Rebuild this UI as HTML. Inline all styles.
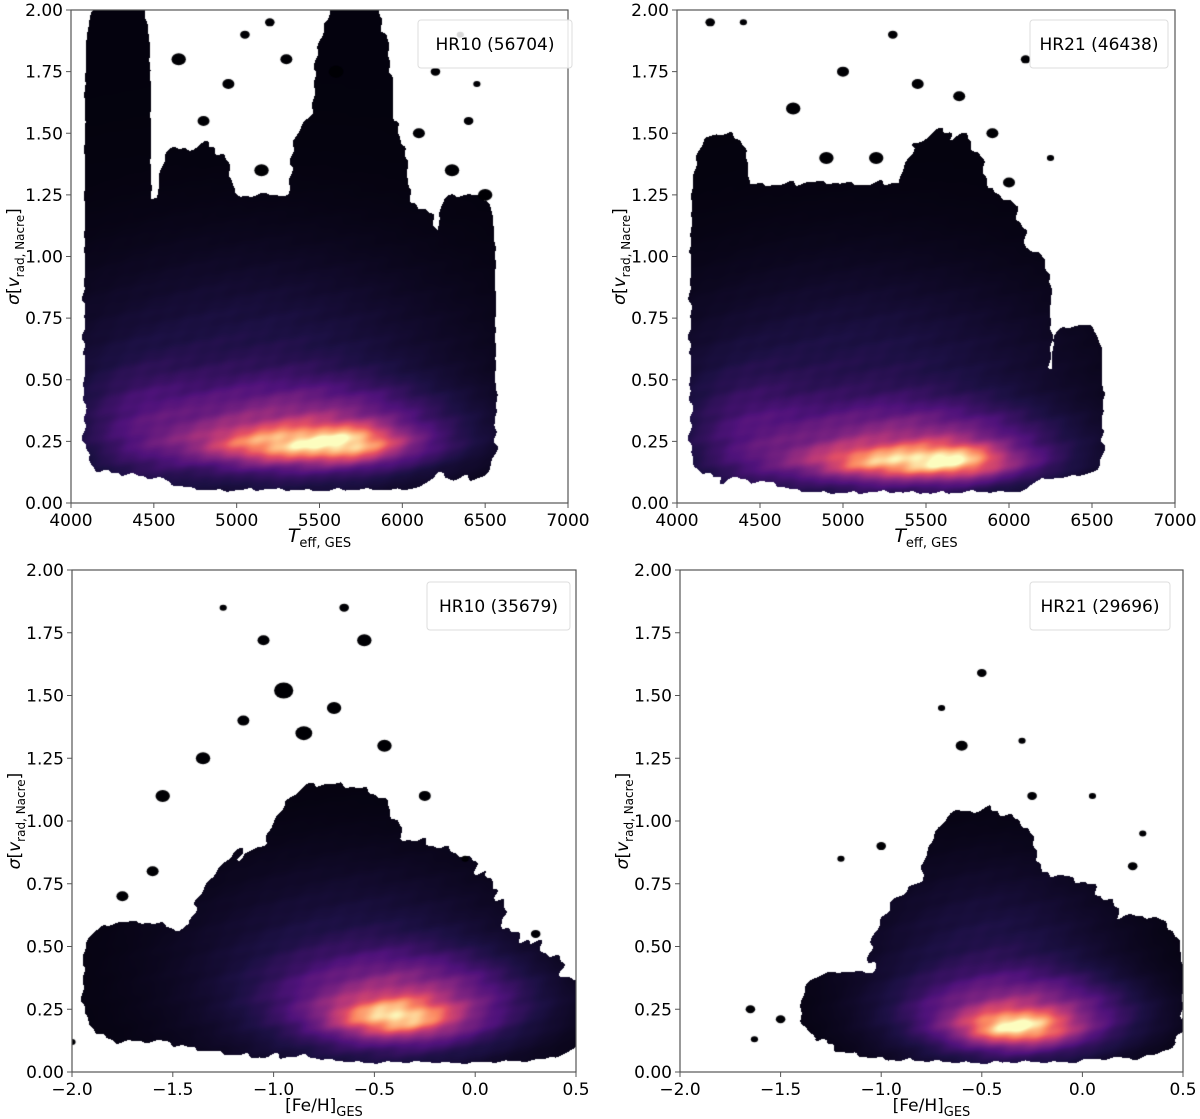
<!DOCTYPE html>
<html><head><meta charset="utf-8">
<style>
body{margin:0;background:#fff;width:1200px;height:1119px;position:relative;overflow:hidden;font-family:"DejaVu Sans","Liberation Sans",sans-serif;}
canvas{position:absolute;}
svg{position:absolute;left:0;top:0;}
</style></head>
<body>
<canvas id="c0"></canvas>
<canvas id="c1"></canvas>
<canvas id="c2"></canvas>
<canvas id="c3"></canvas>
<svg id="ov" width="1200" height="1119"></svg>
<script>
// ---- data ----
const yTicks = [0,0.25,0.5,0.75,1.0,1.25,1.5,1.75,2.0];
const yTickLabels = ["0.00","0.25","0.50","0.75","1.00","1.25","1.50","1.75","2.00"];
const teffTicks = [4000,4500,5000,5500,6000,6500,7000];
const fehTicks = [-2.0,-1.5,-1.0,-0.5,0.0,0.5];
const fehTickLabels = ["\u22122.0","\u22121.5","\u22121.0","\u22120.5","0.0","0.5"];
const legendLabels = ["HR10 (56704)","HR21 (46438)","HR10 (35679)","HR21 (29696)"];
// support regions [x0,x1,y0,y1,exponent]
const regionsHR10T = [[4080,6560,0.12,0.7,8],[4500,6250,0.055,1.0,8],[4080,6250,0.1,1.25,6],[4080,4480,0.12,2.05,6],[4500,5000,0.1,1.45,4],[5300,6050,0.1,1.6,4],[5450,5950,0.5,2.05,3],[6200,6560,0.1,1.25,5],[4150,4350,1.0,2.05,4]];
const regionsHR21T = [[4080,6560,0.1,0.55,8],[4500,6250,0.045,1.05,8],[4080,6100,0.08,1.3,6],[4080,4450,0.1,1.5,4],[5300,5900,0.3,1.5,3],[6250,6560,0.15,0.72,4]];
const regionsHR10F = [[-1.85,0.45,0.06,0.62,2.5],[-1.4,0.15,0.12,0.95,2.5],[-1.0,0.55,0.04,0.42,4],[-1.05,-0.35,0.4,1.15,2.5],[-1.95,-1.4,0.12,0.6,3]];
const regionsHR21F = [[-1.35,0.5,0.04,0.42,3],[-1.05,0.25,0.08,0.8,2.5],[-0.8,-0.2,0.3,1.05,2.5],[-1.4,-0.9,0.12,0.4,3],[0.0,0.5,0.06,0.62,3]];
// bright kernels [x,y,sx,sy,weight]
const kernHR10T = [[5400,0.24,400,0.05,0.55],[5700,0.25,160,0.05,0.22],[5400,0.3,560,0.12,0.33],[4400,0.3,250,0.18,0.1],[5100,0.5,900,0.35,0.13]];
const kernHR21T = [[5400,0.17,400,0.045,0.55],[5700,0.18,160,0.05,0.22],[5400,0.23,560,0.11,0.33],[4400,0.28,250,0.18,0.1],[5100,0.45,900,0.35,0.13]];
const kernHR10F = [[-0.4,0.22,0.2,0.05,0.55],[-0.35,0.28,0.38,0.12,0.35],[-0.6,0.4,0.6,0.3,0.13]];
const kernHR21F = [[-0.33,0.18,0.18,0.045,0.6],[-0.3,0.23,0.35,0.1,0.35],[-0.45,0.4,0.45,0.3,0.13]];
// isolated islands [x,y,radius px]
const islHR10T = [[4650,1.8,6],[4800,1.55,5],[4950,1.7,5],[5050,1.9,4],[5150,1.35,6],[5300,1.8,5],[5200,1.95,4],[5600,1.75,6],[6100,1.5,5],[6200,1.75,4],[6300,1.35,6],[6400,1.55,4],[6500,1.25,6],[6450,1.7,3],[6350,1.9,3]];
const islHR21T = [[4200,1.95,4],[4400,1.95,3],[4700,1.6,6],[4900,1.4,6],[5000,1.75,5],[5200,1.4,6],[5300,1.9,4],[5450,1.7,5],[5700,1.65,5],[5900,1.5,5],[6000,1.3,5],[6100,1.8,4],[6250,1.4,3]];
const islHR10F = [[-1.25,1.85,3],[-1.05,1.72,5],[-0.65,1.85,4],[-0.55,1.72,6],[-0.95,1.52,8],[-0.7,1.45,6],[-1.15,1.4,5],[-1.35,1.25,6],[-0.85,1.35,7],[-0.45,1.3,6],[-0.25,1.1,5],[-1.6,0.8,5],[-1.75,0.7,5],[0.3,0.55,4],[-0.05,0.85,3],[-2.0,0.12,3],[-1.55,1.1,6]];
const islHR21F = [[-1.65,0.25,4],[-1.5,0.21,4],[-1.63,0.13,3],[-1.2,0.85,3],[-0.5,1.59,4],[-0.6,1.3,5],[-0.3,1.32,3],[-0.7,1.45,3],[-0.25,1.1,4],[0.05,1.1,3],[0.25,0.82,4],[0.3,0.95,3],[-1.0,0.9,4]];
// ---- layout ----
const panels = [
 {L:71,R:568,T:10,B:503,xmin:4000,xmax:7000,reg:regionsHR10T,kern:kernHR10T,isl:islHR10T,xt:teffTicks,xl:teffTicks.map(String),teff:true,leg:[418,20,154,48]},
 {L:677,R:1175,T:10,B:503,xmin:4000,xmax:7000,reg:regionsHR21T,kern:kernHR21T,isl:islHR21T,xt:teffTicks,xl:teffTicks.map(String),teff:true,leg:[1030,20,138,48]},
 {L:72,R:576,T:570,B:1072,xmin:-2,xmax:0.5,reg:regionsHR10F,kern:kernHR10F,isl:islHR10F,xt:fehTicks,xl:fehTickLabels,teff:false,leg:[427,582,143,48]},
 {L:680,R:1183,T:570,B:1072,xmin:-2,xmax:0.5,reg:regionsHR21F,kern:kernHR21F,isl:islHR21F,xt:fehTicks,xl:fehTickLabels,teff:false,leg:[1030,582,140,48]}
];
const stops=[[0,[0,0,4]],[0.13,[28,16,68]],[0.25,[79,18,123]],[0.38,[129,37,129]],[0.5,[181,54,122]],[0.63,[229,80,100]],[0.75,[251,135,97]],[0.88,[254,194,135]],[1,[252,253,191]]];
function magma(t){t=Math.max(0,Math.min(1,t));for(let i=1;i<stops.length;i++){if(t<=stops[i][0]){const a=stops[i-1],b=stops[i];const u=(t-a[0])/(b[0]-a[0]);return [0,1,2].map(k=>a[1][k]+(b[1][k]-a[1][k])*u);}}return stops[stops.length-1][1];}
function wob(i,j){return 0.5*Math.sin(i*0.21+j*0.13)+0.35*Math.sin(i*0.07-j*0.31+1.3)+0.3*Math.sin(i*0.43+j*0.37+2.1);}
function tex(i,j){return 0.5*Math.sin(i*0.19+j*0.31)*Math.sin(i*0.11-j*0.17+0.7)+0.5*Math.sin(i*0.08+j*0.23+1.9);}
const NS="http://www.w3.org/2000/svg";
const ov=document.getElementById('ov');
function mk(tag,attrs,parent){const e=document.createElementNS(NS,tag);for(const k in attrs)e.setAttribute(k,attrs[k]);(parent||ov).appendChild(e);return e;}
panels.forEach((p,pi)=>{
 const W=p.R-p.L,H=p.B-p.T;
 const sx=v=>p.L+(v-p.xmin)/(p.xmax-p.xmin)*W;
 const sy=v=>p.B-v/2*H;
 const cv=document.getElementById('c'+pi);cv.width=W;cv.height=H;cv.style.left=p.L+'px';cv.style.top=p.T+'px';
 const ctx=cv.getContext('2d');const img=ctx.createImageData(W,H);
 for(let j=0;j<H;j++){const y=(H-j)/H*2;for(let i=0;i<W;i++){const x=p.xmin+i/W*(p.xmax-p.xmin);
  const thr=1+0.12*wob(i,j);
  let inside=false;for(const r of p.reg){const cx=(r[0]+r[1])/2,rx=(r[1]-r[0])/2,cy=(r[2]+r[3])/2,ry=(r[3]-r[2])/2;
   if(Math.pow(Math.abs((x-cx)/rx),r[4])+Math.pow(Math.abs((y-cy)/ry),r[4])<thr){inside=true;break;}}
  const o=(j*W+i)*4;
  if(!inside){img.data[o]=255;img.data[o+1]=255;img.data[o+2]=255;img.data[o+3]=255;continue;}
  let f=0;for(const k of p.kern){const dx=(x-k[0])/k[2],dy=(y-k[1])/k[3];f+=k[4]*Math.exp(-0.5*(dx*dx+dy*dy));}
  f=f*(1+0.1*tex(i,j));
  const c=magma(Math.pow(f,1.0)+0.02);img.data[o]=c[0];img.data[o+1]=c[1];img.data[o+2]=c[2];img.data[o+3]=255;}}
 ctx.putImageData(img,0,0);
 ctx.fillStyle='#000004';
 p.isl.forEach(s=>{ctx.beginPath();ctx.ellipse(sx(s[0])-p.L,sy(s[1])-p.T,s[2]*1.2,s[2],0,0,Math.PI*2);ctx.fill();});
 const g=mk('g',{});
 
 
 const fr=mk('rect',{x:p.L,y:p.T,width:W,height:H,fill:'none',stroke:'#555','stroke-width':1.2},g);
 
 
 yTicks.forEach((v,k)=>{mk('line',{x1:p.L-5,x2:p.L,y1:sy(v),y2:sy(v),stroke:'#555'},g);
  const t=mk('text',{x:p.L-8,y:sy(v)+6,'text-anchor':'end','font-size':17,fill:'#000'},g);t.textContent=yTickLabels[k];
  
  });
 p.xt.forEach((v,k)=>{mk('line',{x1:sx(v),x2:sx(v),y1:p.B,y2:p.B+5,stroke:'#555'},g);
  const t=mk('text',{x:sx(v),y:p.B+23,'text-anchor':'middle','font-size':17,fill:'#000'},g);t.textContent=p.xl[k];
  
  });
 const xl=mk('text',{x:(p.L+p.R)/2,y:p.B+39,'text-anchor':'middle','font-size':17,fill:'#000'},g);
 
 
 if(p.teff){xl.innerHTML='<tspan font-style="italic" font-size="19">T</tspan><tspan font-size="13" dy="5">eff, GES</tspan>';}
 else{xl.innerHTML='[Fe/H]<tspan font-size="13" dy="5">GES</tspan>';}
 const yl=mk('text',{x:0,y:0,'text-anchor':'middle','font-size':17,fill:'#000',transform:`translate(${p.L-52},${(p.T+p.B)/2}) rotate(-90)`},g);
 
 
 yl.innerHTML='<tspan font-style="italic">\u03c3</tspan>[<tspan font-style="italic">v</tspan><tspan font-size="12" dy="5">rad, Nacre</tspan><tspan dy="-5">]</tspan>';
 const lg=mk('g',{},g);
 
 
 mk('rect',{x:p.leg[0],y:p.leg[1],width:p.leg[2],height:p.leg[3],rx:3,fill:'#fff','fill-opacity':0.85,stroke:'#ddd'},lg);
 const lt=mk('text',{x:p.leg[0]+p.leg[2]/2,y:p.leg[1]+30,'text-anchor':'middle','font-size':17,fill:'#000'},lg);lt.textContent=legendLabels[pi];
 
 
});
</script>
</body></html>
